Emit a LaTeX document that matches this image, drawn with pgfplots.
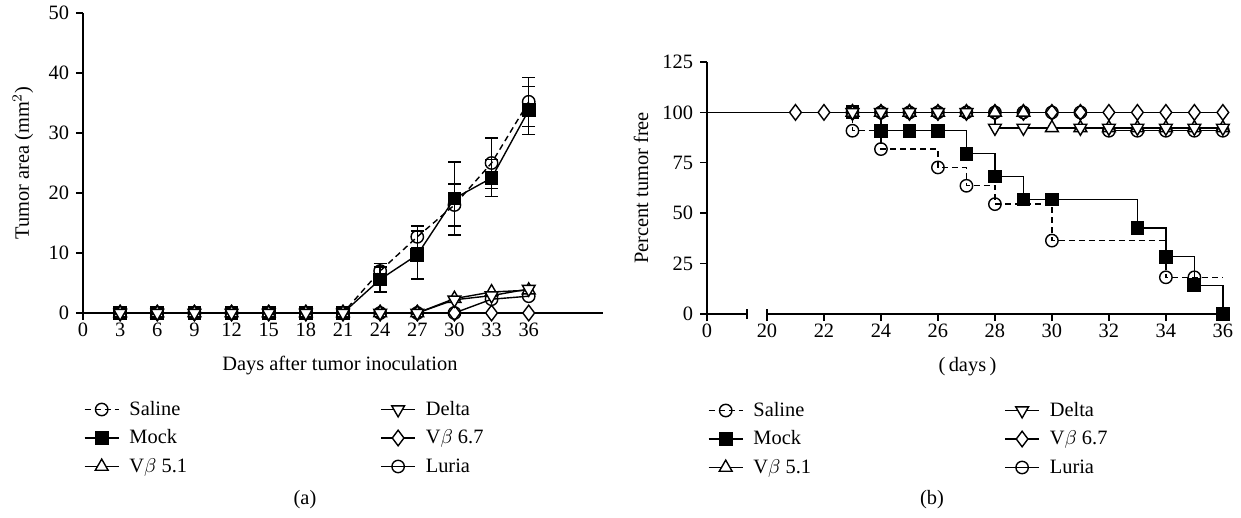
\documentclass[border=0pt]{standalone}
\usepackage{pgfplots}
\pgfplotsset{compat=1.18}
\usepackage{pgfplotstable}
\usepackage{fontspec}
\setmainfont{Liberation Serif}
\newcommand{\f}{\fontsize{10.2bp}{12bp}\selectfont}

% ---------- data (a): tumor area ----------
\pgfplotstableread{
d v e
3 0 0
6 0 0
9 0 0
12 0 0
15 0 0
18 0 0
21 0 0
24 7.0 1.3
27 12.7 1.8
30 18.0 3.5
33 25.0 4.2
36 35.2 4.1
}\salA
\pgfplotstableread{
d v e
3 0 0
6 0 0
9 0 0
12 0 0
15 0 0
18 0 0
21 0 0
24 5.6 2.1
27 9.7 4.0
30 19.1 6.1
33 22.5 3.1
36 33.8 4.0
}\mocA
\pgfplotstableread{
d v
3 0
6 0
9 0
12 0
15 0
18 0
21 0
24 0
27 0
30 2.4
33 3.5
36 3.8
}\vfiA
\pgfplotstableread{
d v
3 0
6 0
9 0
12 0
15 0
18 0
21 0
24 0
27 0
30 2.2
33 2.9
36 4.0
}\delA
\pgfplotstableread{
d v
3 0
6 0
9 0
12 0
15 0
18 0
21 0
24 0
27 0
30 0
33 0
36 0
}\vsiA
\pgfplotstableread{
d v
3 0
6 0
9 0
12 0
15 0
18 0
21 0
24 0
27 0
30 0
33 2.3
36 2.8
}\lurA

\tikzset{
 sal/.style={black, line width=0.7bp, dash pattern=on 3bp off 2bp, mark=o, mark size=3.1bp, mark options={solid, fill=none}},
 moc/.style={black, line width=0.7bp, solid, mark=square*, mark size=3.1bp, mark options={solid, fill=black}},
 vfi/.style={black, line width=0.7bp, solid, mark=triangle*, mark size=3.7bp, mark options={solid, fill=white}},
 del/.style={black, line width=0.7bp, solid, mark=triangle*, mark size=3.7bp, mark options={solid, fill=white, rotate=180}},
 vsi/.style={black, line width=0.7bp, solid, mark=diamond*, mark size=3.9bp, mark options={solid, fill=white}},
 lur/.style={black, line width=0.7bp, solid, mark=o, mark size=3.1bp, mark options={solid, fill=none}},
}

\pgfplotsset{
 common/.style={
  scale only axis, clip=false,
  axis lines*=left,
  axis line style={line width=0.7bp, black},
  tick align=outside, major tick length=3.5bp,
  tick style={line width=0.7bp, black},
  /pgf/number format/assume math mode=true,
  ticklabel style={font=\f},
  xticklabel style={yshift=2bp},
  label style={font=\f},
  legend columns=2,
  legend cell align=left,
  legend style={draw=none, fill=none, font=\f, inner sep=0pt, outer sep=0pt,
    at={(axis description cs:0,0)}, anchor=north west, xshift=0.5bp, yshift=-43bp,
    nodes={inner sep=0.5bp, text height=7.5bp, text depth=2bp},
    row sep=3.75bp,
    /tikz/every odd column/.append style={column sep=4.5bp},
    /tikz/every even column/.append style={column sep=96bp}},
 }
}

\begin{document}
\begin{tikzpicture}[font=\f]
\useasboundingbox (0,0) rectangle (620.5bp,259bp);

% ================= (a) =================
\begin{axis}[common,
  at={(41.5bp,102.5bp)}, anchor=south west,
  width=260bp, height=150bp,
  xmin=0, xmax=42, ymin=0, ymax=50,
  xtick={0,3,...,36}, ytick={0,10,...,50},
  xtick style={draw=none},
  every axis y label/.style={at={(axis description cs:0,0.5)}, anchor=center, xshift=-30bp, rotate=90},
  every axis x label/.style={at={(axis description cs:0.494,0)}, anchor=center, yshift=-26.5bp},
  ylabel={Tumor area (mm$^{2}$)},
  xlabel={Days after tumor inoculation},
]
\draw[line width=0.7bp] (axis cs:0,0) -- ++(0,-3.5bp);
\addplot[moc, forget plot, error bars/.cd, y dir=both, y explicit,
  error bar style={solid, line width=0.7bp},
  error mark options={solid, rotate=90, mark size=3.2bp, line width=0.7bp}]
  table[x=d, y=v, y error=e] {\mocA};
\addplot[sal, forget plot, error bars/.cd, y dir=both, y explicit,
  error bar style={solid, line width=0.7bp},
  error mark options={solid, rotate=90, mark size=3.2bp, line width=0.7bp}]
  table[x=d, y=v, y error=e] {\salA};
\addplot[vsi, forget plot] table[x=d, y=v] {\vsiA};
\addplot[lur, forget plot] table[x=d, y=v] {\lurA};
\addplot[vfi, forget plot] table[x=d, y=v] {\vfiA};
\addplot[del, forget plot] table[x=d, y=v] {\delA};
\addlegendimage{sal}\addlegendentry{\makebox[29bp][l]{Saline}}
\addlegendimage{del}\addlegendentry{Delta}
\addlegendimage{moc}\addlegendentry{\makebox[29bp][l]{Mock}}
\addlegendimage{vsi}\addlegendentry{V$\beta$ 6.7}
\addlegendimage{vfi}\addlegendentry{\makebox[29bp][l]{V$\beta$ 5.1}}
\addlegendimage{lur}\addlegendentry{Luria}
\end{axis}

% ================= (b) =================
\begin{axis}[common,
  at={(353.5bp,102bp)}, anchor=south west,
  width=260.5bp, height=126bp,
  x coord trafo/.code={%
    \begingroup
    \pgfkeys{/pgf/fpu=true}%
    \pgfmathparse{ifthenelse(#1<19.9, #1*0.10525, #1-17.895)}%
    \pgfmathfloattofixed{\pgfmathresult}%
    \global\let\mytrafores=\pgfmathresult
    \endgroup
    \let\pgfmathresult=\mytrafores},
  xmin=0, xmax=36.18, ymin=0, ymax=125,
  xtick={0,20,22,24,26,28,30,32,34,36},
  xticklabels={0,20,22,24,26,28,30,32,34,36},
  ytick={0,25,50,75,100,125},
  x axis line style={draw=none},
  every axis y label/.style={at={(axis description cs:0,0.5)}, anchor=center, xshift=-33bp, rotate=90},
  every axis x label/.style={at={(axis description cs:0.5,0)}, anchor=center, yshift=-26.5bp},
  ylabel={Percent tumor free},
  xlabel={(\,days\,)},
]
\draw[line width=0.7bp] (axis cs:0,0) -- (axis cs:13.3,0);
\draw[line width=0.7bp] (axis cs:20,0) -- (axis cs:36.18,0);
\draw[line width=0.9bp] (axis cs:13.3,0) ++(0,-2.6bp) -- ++(0,5.2bp);
\draw[line width=0.9bp] (axis cs:20,0) ++(0,-2.6bp) -- ++(0,5.2bp);
% step lines
\addplot[vsi, no marks, const plot, forget plot] coordinates {(0,100) (36,100)};
\addplot[lur, no marks, const plot, forget plot] coordinates {(0,100) (32,90.9) (36,90.9)};
\addplot[vfi, no marks, const plot, forget plot] coordinates {(0,100) (30,92.3) (36,92.3)};
\addplot[del, no marks, const plot, forget plot] coordinates {(0,100) (28,92.3) (36,92.3)};
\addplot[moc, no marks, const plot, forget plot] coordinates {(0,100) (24,90.9) (27,79.5) (28,68.2) (29,56.8) (33,42.6) (34,28.4) (35,14.2) (36,0)};
\addplot[sal, no marks, const plot, forget plot] coordinates {(0,100) (23,90.9) (24,81.8) (26,72.7) (27,63.6) (28,54.5) (30,36.4) (34,18.2) (36,18.2)};
% markers
\addplot[moc, only marks, forget plot] coordinates {(23,100) (24,90.9) (25,90.9) (26,90.9) (27,79.5) (28,68.2) (29,56.8) (30,56.8) (33,42.6) (34,28.4) (35,14.2) (36,0)};
\addplot[sal, only marks, forget plot] coordinates {(23,90.9) (24,81.8) (26,72.7) (27,63.6) (28,54.5) (30,36.4) (34,18.2) (35,18.2)};
\addplot[vsi, only marks, forget plot] coordinates {(21,100) (22,100) (23,100) (24,100) (25,100) (26,100) (27,100) (28,100) (29,100) (30,100) (31,100) (32,100) (33,100) (34,100) (35,100) (36,100)};
\addplot[lur, only marks, forget plot] coordinates {(23,100) (24,100) (25,100) (26,100) (27,100) (28,100) (29,100) (30,100) (31,100) (32,90.9) (33,90.9) (34,90.9) (35,90.9) (36,90.9)};
\addplot[vfi, only marks, forget plot] coordinates {(23,100) (24,100) (25,100) (26,100) (27,100) (28,100) (29,100) (30,92.3) (31,92.3) (32,92.3) (33,92.3) (34,92.3) (35,92.3) (36,92.3)};
\addplot[del, only marks, forget plot] coordinates {(23,100) (24,100) (25,100) (26,100) (27,100) (28,92.3) (29,92.3) (31,92.3) (32,92.3) (33,92.3) (34,92.3) (35,92.3) (36,92.3)};
\addlegendimage{sal}\addlegendentry{\makebox[29bp][l]{Saline}}
\addlegendimage{del}\addlegendentry{Delta}
\addlegendimage{moc}\addlegendentry{\makebox[29bp][l]{Mock}}
\addlegendimage{vsi}\addlegendentry{V$\beta$ 6.7}
\addlegendimage{vfi}\addlegendentry{\makebox[29bp][l]{V$\beta$ 5.1}}
\addlegendimage{lur}\addlegendentry{Luria}
\end{axis}

\node[font=\f] at (152.5bp,9bp) {(a)};
\node[font=\f] at (466bp,9bp) {(b)};
\end{tikzpicture}
\end{document}
